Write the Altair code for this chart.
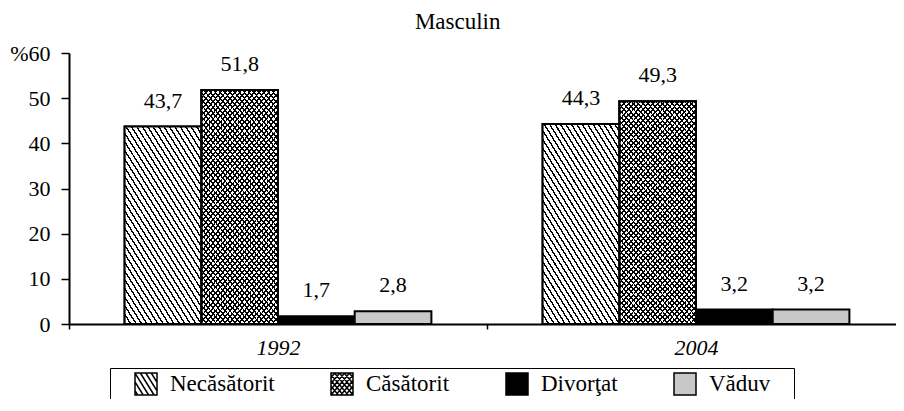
import math
import altair as alt
import pandas as pd

# ---------------- data ----------------
years = ["1992", "2004"]
series = ["Necăsătorit", "Căsătorit", "Divorţat", "Văduv"]
values_1992 = [43.7, 51.8, 1.7, 2.8]
values_2004 = [44.3, 49.3, 3.2, 3.2]
fill_colors = ["#ffffff", "#ffffff", "#000000", "#c8c8c8"]
y_ticks = [0, 10, 20, 30, 40, 50, 60]

rows = []
for yr, vals in zip(years, [values_1992, values_2004]):
    for s, v in zip(series, vals):
        rows.append({"an": yr, "stare": s, "valoare": v})
df = pd.DataFrame(rows)
colors_df = pd.DataFrame({"stare": series, "culoare": fill_colors})

# ---------------- layout ----------------
PLOT_W, PLOT_H = 826, 271
X_RANGE = 836
Y_MAX = 60
OFFSET_PAD = 0.725
FONT = "Liberation Serif, Times New Roman, Tinos, DejaVu Serif, serif"

band_w = X_RANGE / len(years)
bar_w = band_w / (len(series) + 2 * OFFSET_PAD)


def bar_h(v):
    return v / Y_MAX * PLOT_H


def stripe_gradient(w, h, theta_deg, period, dark_frac, dark, light):
    """Linear gradient (bbox units) that draws parallel stripes at a given pixel angle."""
    th = math.radians(theta_deg)
    D = (math.sin(th) / h, -math.cos(th) / w)
    nrm = math.hypot(*D)
    D = (D[0] / nrm, D[1] / nrm)
    corners = [(0, 0), (1, 0), (0, 1), (1, 1)]
    proj = [c[0] * D[0] + c[1] * D[1] for c in corners]
    p1 = corners[proj.index(min(proj))]
    q = corners[proj.index(max(proj))]
    lam = max(proj) - min(proj)
    p2 = (p1[0] + lam * D[0], p1[1] + lam * D[1])
    n_px = (math.sin(th), -math.cos(th))
    span = abs((q[0] - p1[0]) * w * n_px[0] + (q[1] - p1[1]) * h * n_px[1])
    N = span / period
    stops = []
    k = 0
    while k / N < 1:
        a = k / N
        b = min((k + dark_frac) / N, 1.0)
        c = min((k + 1) / N, 1.0)
        stops += [
            {"offset": round(a, 5), "color": dark},
            {"offset": round(b, 5), "color": dark},
            {"offset": round(b, 5), "color": light},
            {"offset": round(c, 5), "color": light},
        ]
        k += 1
    return {
        "gradient": "linear",
        "x1": round(p1[0], 5), "y1": round(p1[1], 5),
        "x2": round(p2[0], 5), "y2": round(p2[1], 5),
        "stops": stops,
    }


def hatch_path(angles, spacing):
    parts = ["M-1,-1H1V1H-1Z"]
    for ang in angles:
        th = math.radians(ang)
        d = (math.cos(th), math.sin(th))
        n = (math.sin(th), -math.cos(th))
        cmax = abs(n[0]) + abs(n[1])
        c = -cmax + spacing / 2
        while c < cmax:
            lo, hi = -1e9, 1e9
            ok = True
            for i in (0, 1):
                base = c * n[i]
                if abs(d[i]) < 1e-9:
                    if abs(base) > 1:
                        ok = False
                else:
                    t1 = (-1 - base) / d[i]
                    t2 = (1 - base) / d[i]
                    lo = max(lo, min(t1, t2))
                    hi = min(hi, max(t1, t2))
            if ok and hi - lo > 0.08:
                x1, y1 = c * n[0] + lo * d[0], c * n[1] + lo * d[1]
                x2, y2 = c * n[0] + hi * d[0], c * n[1] + hi * d[1]
                parts.append(f"M{x1:.3f},{y1:.3f}L{x2:.3f},{y2:.3f}")
            c += spacing
    return "".join(parts)


h_nec = bar_h((values_1992[0] + values_2004[0]) / 2)
h_cas = bar_h((values_1992[1] + values_2004[1]) / 2)
grad_nec = stripe_gradient(bar_w, h_nec, 58, 4.6, 0.3, "#000000", "#ffffff")
grad_cas_a = stripe_gradient(bar_w, h_cas, 50, 3.7, 0.36, "#000000", "rgba(255,255,255,0)")
grad_cas_b = stripe_gradient(bar_w, h_cas, -50, 3.7, 0.36, "#000000", "rgba(255,255,255,0)")

square = "M-1,-1H1V1H-1Z"
shape_paths = [hatch_path([58], 0.42), hatch_path([50, -50], 0.34), square, square]

# ---------------- encodings ----------------
x_enc = alt.X("an:N", sort=years,
              scale=alt.Scale(domain=years, range=[0, X_RANGE], paddingInner=0, paddingOuter=0),
              axis=alt.Axis(title=None, labelAngle=0, labelFontStyle="italic",
                            tickBand="extent", tickSize=5, labelPadding=8,
                            domainWidth=2, tickWidth=1.5))
xo_enc = alt.XOffset("stare:N", sort=series,
                     scale=alt.Scale(domain=series, paddingInner=0, paddingOuter=OFFSET_PAD))
y_enc = alt.Y("valoare:Q",
              scale=alt.Scale(domain=[0, Y_MAX], nice=False),
              axis=alt.Axis(title=None, values=y_ticks, grid=False, tickSize=8,
                            labelPadding=11, domainWidth=2, tickWidth=1.5,
                            labelExpr="datum.value == 60 ? '%60' : datum.label"))

legend = alt.Legend(title=" ", titleOrient="right", titlePadding=20, titleFontSize=12,
                    orient="none", legendX=41, legendY=315, direction="horizontal",
                    columns=4, labelFont=FONT, labelFontSize=23, labelColor="black",
                    symbolSize=484, symbolStrokeColor="black", symbolStrokeWidth=1.5,
                    labelOffset=12, columnPadding=35, padding=4, symbolOffset=20,
                    strokeColor="black", cornerRadius=0)

base = alt.Chart(df)

bars = base.transform_lookup(
    lookup="stare", from_=alt.LookupData(colors_df, "stare", ["culoare"])
).mark_bar(stroke="black", strokeWidth=2).encode(
    x=x_enc, xOffset=xo_enc, y=y_enc,
    fill=alt.Fill("culoare:N", scale=None),
)

hatch_nec = base.transform_filter(alt.datum.stare == series[0]).mark_bar(
    fill=grad_nec, stroke="black", strokeWidth=2
).encode(x=x_enc, xOffset=xo_enc, y=y_enc)

hatch_cas_a = base.transform_filter(alt.datum.stare == series[1]).mark_bar(
    fill=grad_cas_a, strokeWidth=0
).encode(x=x_enc, xOffset=xo_enc, y=y_enc)

hatch_cas_b = base.transform_filter(alt.datum.stare == series[1]).mark_bar(
    fill=grad_cas_b, stroke="black", strokeWidth=2
).encode(x=x_enc, xOffset=xo_enc, y=y_enc)

labels = base.transform_calculate(
    eticheta="replace(format(datum.valoare, '.1f'), '.', ',')"
).mark_text(baseline="alphabetic", dy=-19, font=FONT, fontSize=22, color="black").encode(
    x=x_enc, xOffset=xo_enc, y=y_enc, text="eticheta:N"
)

legend_layer = base.transform_filter("false").mark_point(
    filled=True, opacity=1, stroke="black", strokeWidth=1.5, size=484
).encode(
    x=x_enc, xOffset=xo_enc, y=y_enc,
    color=alt.Color("stare:N", scale=alt.Scale(domain=series, range=fill_colors), legend=legend),
    shape=alt.Shape("stare:N", scale=alt.Scale(domain=series, range=shape_paths), legend=legend),
)

chart = alt.layer(bars, hatch_nec, hatch_cas_a, hatch_cas_b, labels, legend_layer).properties(
    width=PLOT_W, height=PLOT_H,
    padding={"left": 61, "top": 45, "right": 1, "bottom": 75},
    autosize="none",
    background="white",
    title=alt.Title("Masculin", anchor="middle", frame="bounds", font=FONT,
                    fontSize=23, fontWeight="normal", color="black", offset=8),
).configure_view(stroke=None).configure_axis(
    labelFont=FONT, labelFontSize=22, labelColor="black",
    domainColor="black", tickColor="black",
)

chart.save("out.html", embed_options={"renderer": "svg", "actions": False})
